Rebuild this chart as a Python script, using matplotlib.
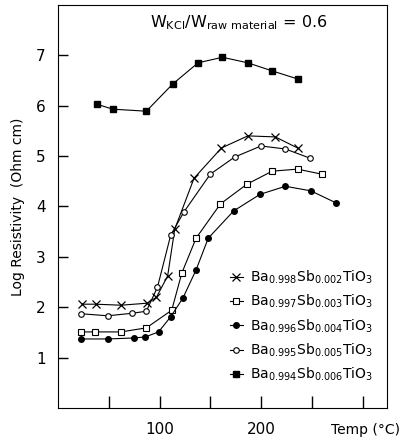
import numpy as np
import matplotlib.pyplot as plt

# Ba0.998Sb0.002TiO3
x998 = [24, 37, 62, 88, 97, 108, 115, 134, 161, 187, 214, 236]
y998 = [2.06, 2.06, 2.04, 2.08, 2.20, 2.62, 3.55, 4.56, 5.16, 5.40, 5.38, 5.16]
# Ba0.997Sb0.003TiO3
x997 = [23, 36, 62, 87, 112, 122, 136, 160, 186, 211, 236, 260]
y997 = [1.51, 1.51, 1.51, 1.59, 1.94, 2.68, 3.37, 4.05, 4.44, 4.70, 4.74, 4.64]
# Ba0.996Sb0.004TiO3
x996 = [23, 49, 75, 86, 99, 111, 123, 136, 148, 173, 199, 224, 249, 274]
y996 = [1.37, 1.37, 1.39, 1.41, 1.51, 1.81, 2.18, 2.74, 3.37, 3.91, 4.24, 4.40, 4.31, 4.07]
# Ba0.995Sb0.005TiO3
x995 = [23, 49, 73, 87, 98, 111, 124, 150, 174, 200, 224, 248]
y995 = [1.87, 1.83, 1.88, 1.92, 2.40, 3.43, 3.89, 4.64, 4.98, 5.20, 5.14, 4.96]
# Ba0.994Sb0.006TiO3
x994 = [38, 54, 87, 113, 138, 162, 187, 211, 236]
y994 = [6.03, 5.93, 5.89, 6.43, 6.85, 6.96, 6.85, 6.69, 6.53]

labels = [r"Ba$_{0.998}$Sb$_{0.002}$TiO$_3$",
          r"Ba$_{0.997}$Sb$_{0.003}$TiO$_3$",
          r"Ba$_{0.996}$Sb$_{0.004}$TiO$_3$",
          r"Ba$_{0.995}$Sb$_{0.005}$TiO$_3$",
          r"Ba$_{0.994}$Sb$_{0.006}$TiO$_3$"]

fig = plt.figure(figsize=(4.03, 4.43), dpi=100)
ax = fig.add_axes([0.144, 0.079, 0.816, 0.910])

ax.plot(x998, y998, color='k', lw=0.8, marker='x', ms=6, mew=0.9, label=labels[0])
ax.plot(x997, y997, color='k', lw=0.8, marker='s', ms=4, mfc='white', mew=0.8, label=labels[1])
ax.plot(x996, y996, color='k', lw=0.8, marker='o', ms=4, mfc='k', label=labels[2])
ax.plot(x995, y995, color='k', lw=0.8, marker='o', ms=4, mfc='white', mew=0.8, label=labels[3])
ax.plot(x994, y994, color='k', lw=0.8, marker='s', ms=4.5, mfc='k', label=labels[4])

ax.set_xlim(0, 324)
ax.set_ylim(0, 8)
ax.set_xticks([50, 100, 150, 200, 250, 300])
ax.set_xticklabels(['', '100', '', '200', '', ''])
ax.set_yticks([1, 2, 3, 4, 5, 6, 7])
ax.tick_params(direction='in', length=9, width=1, labelsize=11)
ax.tick_params(axis='x', pad=10)
ax.tick_params(axis='y', length=7, pad=9)

ax.set_ylabel('Log Resistivity  (Ohm cm)', fontsize=10, labelpad=8)
ax.text(1.04, -0.055, 'Temp (°C)', transform=ax.transAxes, ha='right', va='center', fontsize=10)
ax.text(0.55, 0.955, r"W$_{\rm KCl}$/W$_{\rm raw\ material}$ = 0.6", transform=ax.transAxes,
        ha='center', va='center', fontsize=11.5)

ax.legend(loc='lower right', bbox_to_anchor=(0.995, 0.03), frameon=False, fontsize=10,
          handlelength=1.0, handletextpad=0.45, labelspacing=0.5)

fig.savefig('out.png', dpi=100)
